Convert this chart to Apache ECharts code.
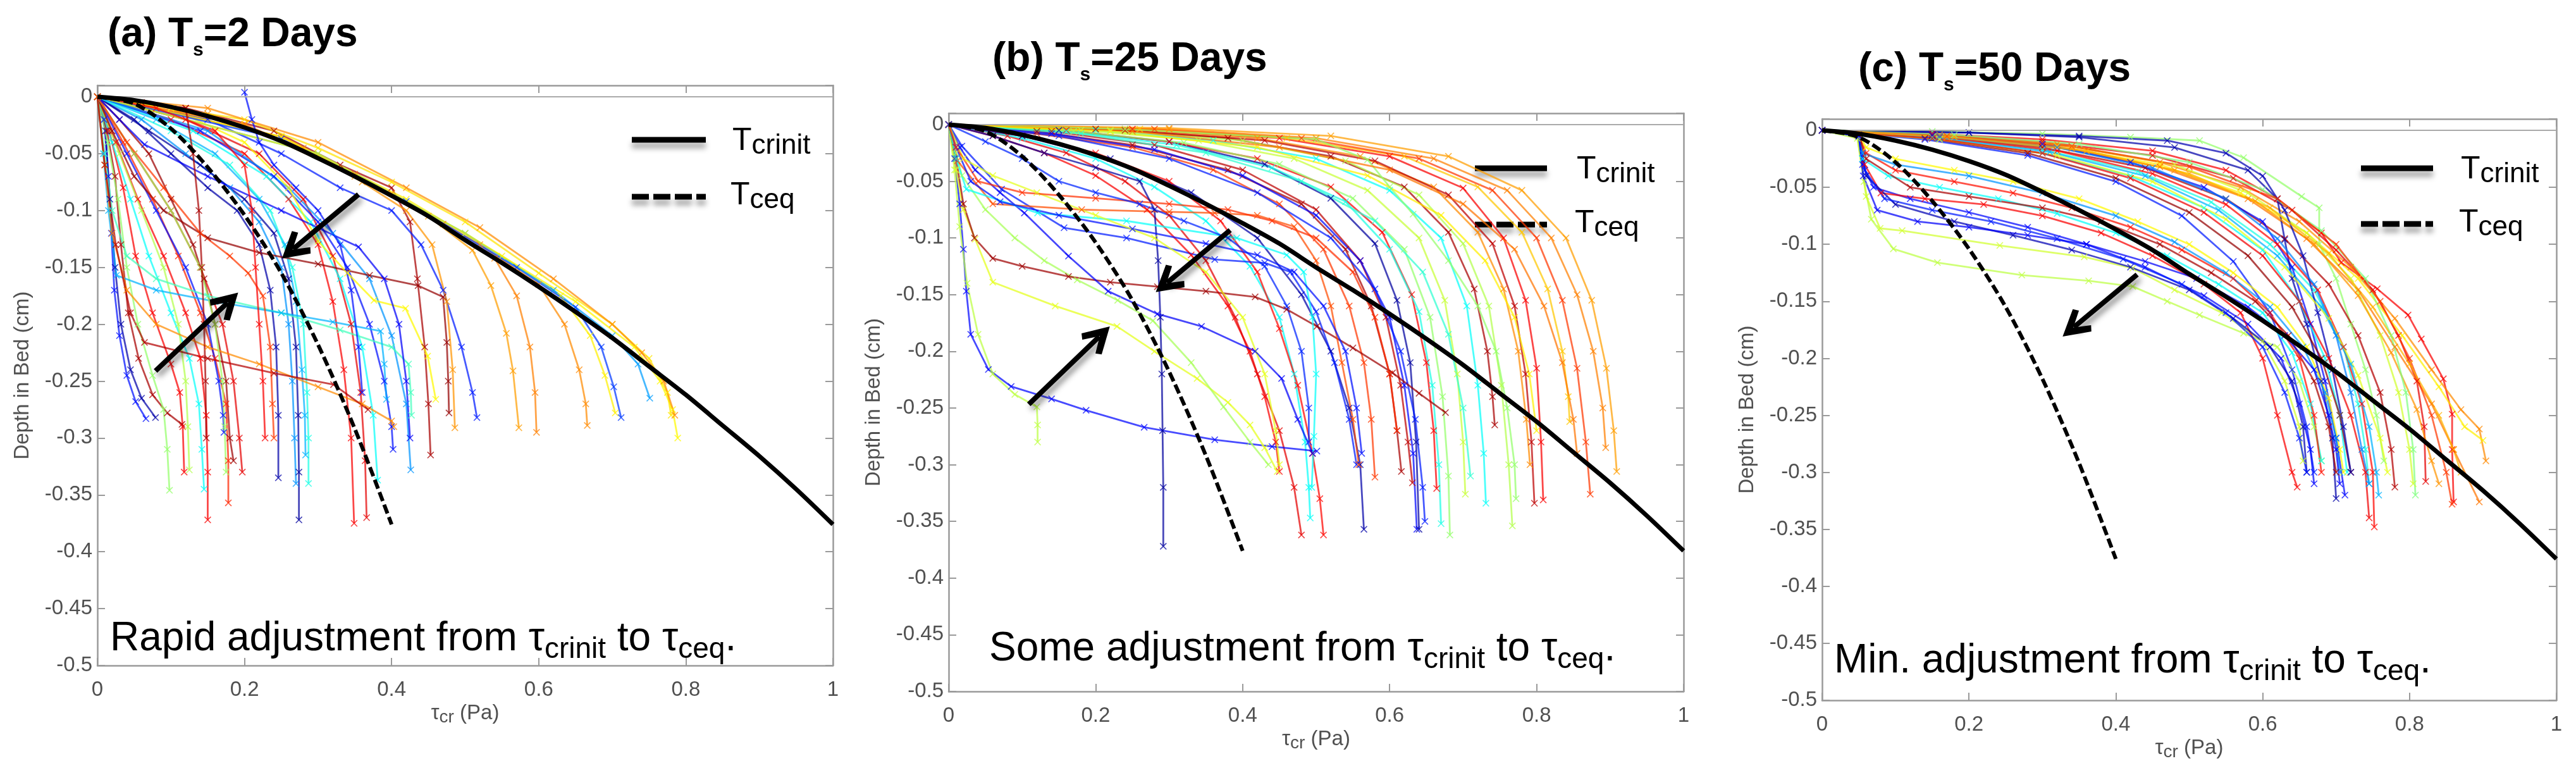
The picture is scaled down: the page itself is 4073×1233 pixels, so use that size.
<!DOCTYPE html>
<html>
<head>
<meta charset="utf-8">
<title>Critical shear stress profiles</title>
<script src="https://cdn.jsdelivr.net/npm/echarts@6/dist/echarts.min.js"></script>
<style>
  html, body { margin: 0; padding: 0; background: #fff; }
  #chart { width: 4073px; height: 1233px; }
</style>
</head>
<body>
<div id="chart"></div>
<script>
// ---- data ----
const xTicks = [0, 0.2, 0.4, 0.6, 0.8, 1];
const panelLetters = ['a', 'b', 'c'];
const settlingDays = [2, 25, 50];
const noteLead = ['Rapid adjustment from ', 'Some adjustment from ', 'Min. adjustment from '];

// initial critical stress profile (solid black)
const tauCrinit = [[0,0],[.05,-.003],[.1,-.009],[.15,-.017],[.2,-.027],[.25,-.039],[.3,-.054],[.35,-.07],[.4,-.087],[.45,-.105],[.5,-.126],[.55,-.146],[.6,-.167],[.65,-.189],[.7,-.212],[.75,-.237],[.8,-.262],[.85,-.289],[.9,-.316],[.95,-.345],[1,-.376]];
// equilibrium critical stress profile (dashed black)
const tauCeq = [[0,0],[.05,-.006],[.1,-.028],[.15,-.062],[.2,-.104],[.25,-.155],[.3,-.218],[.35,-.292],[.4,-.376]];

// modelled profiles: [colour level (jet 0..1), points]
const profilesA = [
  [.14, [[0,0],[.009,-.02],[.015,-.07],[.019,-.12],[.023,-.17],[.03,-.21],[.04,-.245],[.052,-.268],[.066,-.283]]],
  [.04, [[0,0],[.011,-.03],[.017,-.09],[.024,-.15],[.032,-.2],[.045,-.24],[.06,-.265],[.079,-.282]]],
  [.96, [[0,0],[.013,-.03],[.024,-.07],[.032,-.13],[.042,-.19],[.056,-.23],[.075,-.262],[.095,-.278],[.115,-.288]]],
  [.52, [[0,0],[.014,-.04],[.028,-.09],[.04,-.15],[.055,-.2],[.075,-.245],[.09,-.275],[.095,-.31],[.098,-.346]]],
  [.88, [[0,0],[.016,-.03],[.035,-.08],[.052,-.14],[.075,-.19],[.1,-.235],[.112,-.26],[.116,-.29],[.118,-.33]]],
  [.38, [[0,0],[.02,-.04],[.045,-.09],[.07,-.14],[.1,-.19],[.125,-.23],[.138,-.27],[.142,-.31],[.145,-.345]]],
  [.88, [[0,0],[.025,-.04],[.055,-.09],[.09,-.14],[.12,-.19],[.14,-.23],[.148,-.28],[.15,-.33],[.15,-.372]]],
  [.55, [[0,0],[.03,-.05],[.06,-.1],[.09,-.15],[.11,-.2],[.12,-.25],[.123,-.29],[.125,-.328]]],
  [.84, [[0,0],[.035,-.04],[.075,-.09],[.11,-.14],[.14,-.19],[.16,-.23],[.175,-.27],[.178,-.32],[.178,-.357]]],
  [.14, [[0,0],[.04,-.05],[.08,-.1],[.12,-.15],[.15,-.2],[.165,-.25],[.171,-.28],[.172,-.295]]],
  [.9, [[0,0],[.05,-.05],[.1,-.1],[.14,-.15],[.17,-.2],[.185,-.25],[.193,-.3],[.197,-.33]]],
  [.97, [[0,0],[.03,-.02],[.07,-.05],[.1,-.09],[.13,-.13],[.145,-.16],[.16,-.2],[.175,-.25],[.18,-.3],[.185,-.32]]],
  [.04, [[0,0],[.05,-.02],[.1,-.05],[.15,-.08],[.19,-.1],[.22,-.13],[.235,-.17],[.243,-.22],[.246,-.28],[.246,-.335]]],
  [.27, [[0,0],[.06,-.02],[.12,-.05],[.18,-.08],[.22,-.11],[.25,-.15],[.26,-.2],[.265,-.25],[.268,-.3],[.27,-.34]]],
  [.03, [[0,0],[.07,-.03],[.14,-.06],[.2,-.09],[.24,-.12],[.26,-.16],[.27,-.22],[.273,-.28],[.274,-.33],[.274,-.372]]],
  [.3, [[0,0],[.08,-.02],[.16,-.05],[.22,-.09],[.255,-.13],[.27,-.18],[.278,-.24],[.282,-.28],[.283,-.315]]],
  [.4, [[0,0],[.1,-.03],[.18,-.06],[.235,-.1],[.265,-.15],[.28,-.2],[.285,-.26],[.287,-.3],[.287,-.34]]],
  [.88, [[0,0],[.1,-.02],[.2,-.05],[.26,-.09],[.3,-.13],[.32,-.18],[.335,-.24],[.345,-.3],[.349,-.375]]],
  [.9, [[0,0],[.12,-.02],[.22,-.05],[.28,-.09],[.32,-.14],[.345,-.2],[.358,-.26],[.364,-.32],[.366,-.37]]],
  [.38, [[0,0],[.13,-.03],[.23,-.07],[.29,-.11],[.33,-.16],[.36,-.22],[.375,-.28],[.381,-.337]]],
  [.14, [[0,0],[.14,-.03],[.24,-.07],[.3,-.11],[.34,-.15],[.37,-.2],[.39,-.25],[.4,-.29],[.402,-.31]]],
  [.27, [[0,0],[.15,-.03],[.26,-.08],[.32,-.12],[.37,-.16],[.4,-.21],[.42,-.27],[.426,-.328]]],
  [.96, [[0,0],[.12,-.01],[.24,-.03],[.33,-.06],[.4,-.08],[.425,-.11],[.435,-.16],[.445,-.22],[.45,-.27],[.453,-.315]]],
  [.98, [[0,0],[.02,-.03],[.05,-.07],[.09,-.1],[.15,-.124],[.22,-.137],[.3,-.147],[.37,-.157],[.436,-.166],[.47,-.176],[.475,-.216],[.477,-.25],[.478,-.278]]],
  [.44, [[0,0],[.01,-.05],[.02,-.1],[.04,-.14],[.08,-.16],[.15,-.175],[.25,-.19],[.33,-.205],[.4,-.22],[.423,-.235],[.426,-.26],[.427,-.28]]],
  [.3, [[0,0],[.008,-.05],[.015,-.1],[.026,-.157],[.08,-.17],[.16,-.18],[.25,-.19],[.32,-.198],[.385,-.206],[.39,-.235],[.393,-.266]]],
  [.74, [[0,0],[.01,-.06],[.02,-.12],[.04,-.17],[.08,-.2],[.15,-.22],[.22,-.235],[.3,-.255],[.36,-.27],[.4,-.285],[.403,-.29]]],
  [.95, [[0,0],[.01,-.06],[.025,-.13],[.045,-.19],[.064,-.216],[.15,-.23],[.24,-.243],[.321,-.253],[.368,-.275]]],
  [.53, [[0,0],[.05,-.05],[.1,-.1],[.14,-.15],[.16,-.2],[.17,-.25],[.173,-.29],[.175,-.33]]],
  [.82, [[0,0],[.04,-.04],[.09,-.08],[.14,-.12],[.18,-.14],[.205,-.155],[.225,-.175],[.235,-.22],[.238,-.27],[.24,-.3]]],
  [.63, [[0,0],[.1,-.01],[.2,-.04],[.26,-.08],[.3,-.127],[.34,-.155],[.376,-.179],[.419,-.186],[.449,-.228],[.46,-.266]]],
  [.15, [[0,0],[.15,-.02],[.25,-.05],[.33,-.08],[.4,-.1],[.44,-.13],[.47,-.17],[.495,-.22],[.51,-.26],[.516,-.282]]],
  [.73, [[0,0],[.15,-.015],[.28,-.045],[.36,-.075],[.42,-.1],[.455,-.13],[.475,-.18],[.483,-.24],[.486,-.291]]],
  [.72, [[0,0],[.2,-.025],[.35,-.07],[.45,-.105],[.51,-.135],[.535,-.166],[.556,-.208],[.565,-.241],[.573,-.291]]],
  [.75, [[0,0],[.2,-.024],[.35,-.068],[.47,-.112],[.54,-.142],[.57,-.175],[.588,-.22],[.595,-.26],[.597,-.295]]],
  [.74, [[0,0],[.25,-.035],[.4,-.085],[.52,-.13],[.6,-.165],[.635,-.2],[.655,-.24],[.664,-.27],[.666,-.289]]],
  [.64, [[0,0],[.25,-.035],[.42,-.09],[.55,-.14],[.63,-.175],[.67,-.21],[.69,-.245],[.704,-.278]]],
  [.18, [[0,0],[.25,-.037],[.42,-.092],[.57,-.15],[.65,-.185],[.685,-.22],[.702,-.255],[.712,-.282]]],
  [.28, [[0,0],[.3,-.05],[.5,-.12],[.62,-.17],[.7,-.21],[.735,-.235],[.751,-.265]]],
  [.63, [[0,0],[.3,-.05],[.5,-.12],[.65,-.18],[.73,-.22],[.765,-.25],[.782,-.275],[.789,-.3]]],
  [.65, [[0,0],[.2,-.02],[.3,-.045],[.4,-.075],[.5,-.11],[.6,-.155],[.7,-.2],[.75,-.23],[.775,-.26],[.78,-.28]]],
  [.14, [[.2,.004],[.21,-.02],[.22,-.04],[.24,-.06],[.27,-.08],[.3,-.1],[.33,-.13],[.345,-.17],[.355,-.22],[.36,-.26]]],
  [.12, [[0,0],[.03,-.02],[.064,-.042],[.15,-.07],[.25,-.1],[.355,-.132],[.39,-.16],[.41,-.2],[.42,-.25],[.425,-.3]]],
  [.96, [[0,0],[.06,-.005],[.12,-.01],[.13,-.05],[.138,-.1],[.142,-.15],[.145,-.2],[.147,-.25],[.148,-.3]]],
  [.88, [[0,0],[.08,-.01],[.16,-.03],[.2,-.06],[.21,-.1],[.215,-.15],[.22,-.2],[.225,-.25],[.228,-.3]]],
  [.74, [[0,0],[.15,-.01],[.3,-.04],[.42,-.08],[.52,-.115],[.62,-.16],[.7,-.2],[.74,-.225],[.77,-.25],[.785,-.28]]]
];

const profilesB = [
  [.88, [[0,0],[.06,-.01],[.13,-.025],[.2,-.045],[.27,-.075],[.33,-.115],[.38,-.16],[.41,-.2],[.43,-.24],[.445,-.28],[.45,-.306]]],
  [.9, [[0,0],[.08,-.01],[.16,-.025],[.24,-.05],[.3,-.08],[.35,-.12],[.39,-.17],[.42,-.22],[.45,-.27],[.47,-.32],[.48,-.362]]],
  [.38, [[0,0],[.1,-.012],[.2,-.03],[.28,-.055],[.35,-.085],[.41,-.125],[.45,-.17],[.47,-.22],[.485,-.28],[.49,-.32],[.492,-.347]]],
  [.87, [[0,0],[.1,-.01],[.2,-.025],[.3,-.05],[.37,-.085],[.42,-.13],[.45,-.18],[.475,-.23],[.495,-.29],[.505,-.33],[.51,-.362]]],
  [.04, [[0,0],[.1,-.01],[.22,-.03],[.33,-.06],[.42,-.1],[.48,-.15],[.52,-.2],[.545,-.25],[.56,-.3],[.565,-.357]]],
  [.82, [[0,0],[.12,-.008],[.25,-.02],[.36,-.04],[.45,-.07],[.51,-.11],[.545,-.16],[.565,-.21],[.575,-.26],[.58,-.311]]],
  [.96, [[0,0],[.12,-.006],[.25,-.018],[.38,-.04],[.48,-.07],[.54,-.11],[.575,-.16],[.6,-.22],[.61,-.27],[.616,-.306]]],
  [.94, [[0,0],[.14,-.006],[.28,-.018],[.4,-.04],[.5,-.075],[.56,-.12],[.595,-.17],[.615,-.23],[.625,-.28],[.631,-.316]]],
  [.13, [[0,0],[.14,-.008],[.28,-.022],[.4,-.045],[.5,-.08],[.56,-.12],[.6,-.17],[.62,-.23],[.632,-.29],[.637,-.357]]],
  [.03, [[0,0],[.15,-.005],[.3,-.015],[.43,-.035],[.52,-.065],[.58,-.105],[.61,-.155],[.628,-.21],[.636,-.28],[.64,-.357]]],
  [.88, [[0,0],[.16,-.005],[.3,-.015],[.42,-.03],[.52,-.055],[.59,-.095],[.63,-.15],[.65,-.21],[.66,-.27],[.664,-.321]]],
  [.4, [[0,0],[.16,-.006],[.31,-.018],[.44,-.038],[.54,-.068],[.6,-.11],[.64,-.165],[.658,-.23],[.667,-.3],[.67,-.352]]],
  [.52, [[0,0],[.17,-.006],[.32,-.016],[.45,-.035],[.55,-.065],[.62,-.11],[.655,-.17],[.672,-.24],[.68,-.31],[.682,-.362]]],
  [.57, [[0,0],[.18,-.005],[.34,-.014],[.47,-.03],[.57,-.058],[.64,-.1],[.675,-.155],[.692,-.22],[.7,-.28],[.703,-.326]]],
  [.38, [[0,0],[.2,-.005],[.36,-.014],[.5,-.03],[.6,-.058],[.67,-.1],[.705,-.16],[.72,-.23],[.728,-.29],[.731,-.334]]],
  [.96, [[0,0],[.2,-.004],[.38,-.012],[.52,-.028],[.62,-.055],[.68,-.095],[.715,-.145],[.733,-.2],[.74,-.24],[.743,-.265]]],
  [.55, [[0,0],[.22,-.005],[.4,-.014],[.54,-.032],[.64,-.062],[.7,-.105],[.735,-.16],[.752,-.23],[.762,-.3],[.767,-.354]]],
  [.74, [[0,0],[.24,-.004],[.42,-.012],[.56,-.028],[.66,-.055],[.72,-.095],[.755,-.145],[.775,-.2],[.786,-.26],[.791,-.3]]],
  [.94, [[0,0],[.24,-.005],[.43,-.014],[.58,-.032],[.68,-.062],[.74,-.105],[.77,-.16],[.785,-.22],[.793,-.28],[.797,-.334]]],
  [.88, [[0,0],[.25,-.004],[.45,-.012],[.6,-.028],[.7,-.056],[.755,-.1],[.785,-.155],[.8,-.215],[.806,-.28],[.809,-.331]]],
  [.68, [[0,0],[.26,-.004],[.46,-.012],[.62,-.028],[.72,-.055],[.78,-.095],[.815,-.145],[.835,-.2],[.843,-.24],[.845,-.262]]],
  [.82, [[0,0],[.28,-.004],[.48,-.012],[.64,-.03],[.74,-.058],[.8,-.1],[.835,-.155],[.855,-.215],[.867,-.28],[.873,-.326]]],
  [.75, [[0,0],[.3,-.004],[.5,-.012],[.66,-.03],[.76,-.058],[.82,-.1],[.855,-.15],[.877,-.2],[.89,-.25],[.894,-.285]]],
  [.72, [[0,0],[.3,-.003],[.52,-.01],[.68,-.028],[.78,-.058],[.84,-.1],[.875,-.155],[.895,-.215],[.905,-.27],[.909,-.306]]],
  [.52, [[0,0],[.24,-.004],[.5,-.013],[.57,-.031],[.6,-.055],[.632,-.079],[.68,-.12],[.72,-.16],[.745,-.2],[.76,-.25],[.77,-.3],[.772,-.33]]],
  [.76, [[0,0],[.25,-.006],[.45,-.02],[.6,-.04],[.7,-.07],[.77,-.11],[.81,-.16],[.835,-.21],[.85,-.26],[.855,-.29]]],
  [.64, [[0,0],[.22,-.006],[.42,-.02],[.57,-.045],[.67,-.08],[.73,-.12],[.77,-.17],[.79,-.22],[.8,-.27]]],
  [.15, [[0,0],[.15,-.01],[.3,-.03],[.42,-.06],[.52,-.1],[.58,-.145],[.615,-.2],[.635,-.26],[.645,-.32],[.648,-.35]]],
  [.42, [[0,0],[.18,-.008],[.35,-.025],[.48,-.05],[.58,-.085],[.645,-.13],[.68,-.185],[.7,-.25],[.71,-.31]]],
  [.13, [[0,0],[.008,-.03],[.015,-.07],[.02,-.11],[.024,-.147],[.03,-.185],[.054,-.216],[.085,-.231],[.14,-.242],[.187,-.252],[.266,-.267],[.362,-.278],[.44,-.284],[.501,-.288]]],
  [.56, [[0,0],[.008,-.04],[.015,-.09],[.025,-.14],[.04,-.185],[.06,-.22],[.09,-.238],[.12,-.249],[.121,-.265],[.121,-.28]]],
  [.6, [[0,0],[.01,-.04],[.02,-.075],[.036,-.101],[.06,-.139],[.145,-.16],[.229,-.178],[.28,-.2],[.338,-.224],[.38,-.245],[.41,-.265],[.43,-.285],[.447,-.306]]],
  [.54, [[0,0],[.01,-.025],[.018,-.045],[.05,-.075],[.09,-.1],[.13,-.12],[.175,-.137],[.23,-.155],[.278,-.173],[.33,-.21],[.374,-.249],[.41,-.28],[.435,-.3]]],
  [.97, [[0,0],[.01,-.03],[.02,-.07],[.035,-.1],[.06,-.118],[.1,-.125],[.163,-.134],[.22,-.139],[.284,-.143],[.35,-.147],[.417,-.152],[.46,-.163],[.501,-.178],[.55,-.197],[.604,-.219],[.64,-.237],[.676,-.254]]],
  [.03, [[0,0],[.06,-.01],[.13,-.025],[.2,-.038],[.26,-.05],[.28,-.075],[.285,-.12],[.288,-.17],[.29,-.22],[.291,-.27],[.292,-.32],[.292,-.372]]],
  [.12, [[0,0],[.015,-.02],[.036,-.04],[.07,-.06],[.103,-.078],[.163,-.116],[.217,-.147],[.284,-.167],[.344,-.178],[.417,-.2],[.453,-.224],[.475,-.26],[.495,-.29]]],
  [.15, [[0,0],[.018,-.019],[.072,-.057],[.157,-.091],[.242,-.1],[.362,-.119],[.43,-.122],[.465,-.13],[.5,-.165],[.525,-.21],[.545,-.26],[.555,-.3]]],
  [.8, [[0,0],[.012,-.032],[.06,-.07],[.181,-.075],[.3,-.077],[.362,-.078],[.42,-.08],[.47,-.09],[.5,-.12],[.52,-.16],[.535,-.21],[.55,-.26],[.558,-.3]]],
  [.38, [[0,0],[.01,-.03],[.024,-.057],[.121,-.078],[.242,-.085],[.392,-.1],[.46,-.115],[.483,-.13],[.495,-.17],[.5,-.22],[.497,-.275],[.494,-.32]]],
  [.14, [[0,0],[.01,-.02],[.03,-.05],[.07,-.068],[.15,-.08],[.25,-.092],[.35,-.105],[.42,-.115],[.47,-.13],[.51,-.16],[.54,-.2],[.555,-.25],[.562,-.29]]],
  [.6, [[0,0],[.02,-.03],[.06,-.045],[.12,-.06],[.2,-.08],[.28,-.1],[.35,-.13],[.4,-.17],[.43,-.22],[.445,-.27],[.45,-.3]]],
  [.83, [[0,0],[.01,-.02],[.04,-.05],[.1,-.06],[.2,-.065],[.3,-.07],[.38,-.075],[.44,-.085],[.5,-.1],[.55,-.13],[.58,-.17],[.6,-.22],[.61,-.27]]],
  [.16, [[0,0],[.05,-.015],[.1,-.03],[.15,-.05],[.2,-.06],[.26,-.07],[.32,-.085],[.38,-.1],[.43,-.125],[.46,-.16],[.48,-.2],[.49,-.25],[.49,-.28]]]
];

const profilesC = [
  [.52, [[0,0],[.15,-.001],[.3,-.003],[.42,-.006],[.514,-.009],[.574,-.024],[.653,-.058],[.677,-.068],[.677,-.1],[.7,-.13],[.72,-.17],[.74,-.21],[.755,-.25],[.765,-.29]]],
  [.88, [[0,0],[.15,-.003],[.3,-.008],[.45,-.018],[.55,-.035],[.62,-.06],[.68,-.09],[.707,-.116],[.756,-.139],[.798,-.162],[.816,-.183],[.846,-.218],[.858,-.249],[.858,-.28],[.86,-.326]]],
  [.9, [[0,0],[.15,-.004],[.3,-.01],[.45,-.022],[.56,-.042],[.64,-.07],[.7,-.105],[.75,-.14],[.785,-.18],[.81,-.22],[.82,-.26],[.822,-.308]]],
  [.74, [[0,0],[.16,-.004],[.32,-.012],[.46,-.028],[.57,-.05],[.65,-.08],[.72,-.12],[.78,-.165],[.83,-.21],[.87,-.245],[.895,-.262],[.904,-.29]]],
  [.64, [[0,0],[.16,-.005],[.32,-.014],[.46,-.03],[.57,-.055],[.66,-.09],[.73,-.13],[.79,-.18],[.84,-.225],[.875,-.26],[.9,-.272]]],
  [.76, [[0,0],[.16,-.005],[.32,-.015],[.46,-.032],[.58,-.06],[.66,-.095],[.73,-.14],[.78,-.19],[.83,-.24],[.86,-.28],[.895,-.326]]],
  [.95, [[0,0],[.15,-.005],[.3,-.015],[.44,-.033],[.55,-.06],[.63,-.095],[.69,-.135],[.73,-.18],[.76,-.23],[.775,-.28],[.78,-.313]]],
  [.4, [[0,0],[.15,-.006],[.3,-.017],[.43,-.036],[.53,-.063],[.61,-.1],[.67,-.14],[.71,-.19],[.73,-.24],[.74,-.28],[.745,-.31]]],
  [.13, [[0,0],[.15,-.004],[.3,-.012],[.42,-.028],[.52,-.05],[.6,-.08],[.64,-.12],[.665,-.17],[.685,-.22],[.7,-.27],[.712,-.32]]],
  [.04, [[0,0],[.2,-.002],[.35,-.006],[.48,-.015],[.58,-.035],[.62,-.06],[.63,-.096],[.64,-.13],[.66,-.17],[.68,-.22],[.695,-.27],[.7,-.323]]],
  [.87, [[0,0],[.16,-.006],[.32,-.018],[.45,-.038],[.55,-.065],[.62,-.1],[.675,-.14],[.71,-.19],[.735,-.24],[.75,-.3],[.752,-.348]]],
  [.38, [[0,0],[.15,-.007],[.3,-.02],[.42,-.04],[.52,-.068],[.6,-.105],[.65,-.15],[.685,-.2],[.705,-.25],[.715,-.3]]],
  [.58, [[0,0],[.17,-.005],[.34,-.014],[.48,-.03],[.58,-.055],[.66,-.09],[.72,-.13],[.76,-.18],[.785,-.23],[.8,-.28],[.805,-.31]]],
  [.98, [[0,0],[.14,-.007],[.28,-.02],[.4,-.042],[.5,-.072],[.58,-.11],[.64,-.155],[.68,-.2],[.705,-.25],[.72,-.3]]],
  [.15, [[0,0],[.14,-.008],[.28,-.022],[.4,-.045],[.49,-.075],[.56,-.115],[.61,-.16],[.64,-.21],[.66,-.26],[.67,-.3]]],
  [.73, [[0,0],[.17,-.006],[.34,-.016],[.48,-.035],[.59,-.062],[.67,-.1],[.73,-.145],[.775,-.195],[.81,-.245],[.83,-.29],[.84,-.31]]],
  [.3, [[0,0],[.16,-.007],[.31,-.019],[.44,-.04],[.54,-.07],[.62,-.11],[.68,-.155],[.72,-.205],[.745,-.26],[.755,-.3],[.758,-.32]]],
  [.05, [[0,0],[.2,-.002],[.35,-.005],[.47,-.009],[.55,-.02],[.6,-.04],[.63,-.07],[.655,-.11],[.675,-.16],[.695,-.21],[.71,-.26],[.72,-.3]]],
  [.6, [[0,0],[.16,-.008],[.32,-.022],[.45,-.045],[.55,-.078],[.63,-.12],[.69,-.165],[.73,-.215],[.76,-.27],[.77,-.3]]],
  [.89, [[0,0],[.15,-.007],[.3,-.02],[.42,-.042],[.52,-.072],[.6,-.11],[.65,-.15],[.69,-.2],[.72,-.25],[.74,-.3],[.745,-.34]]],
  [.25, [[0,0],[.16,-.005],[.32,-.015],[.45,-.033],[.55,-.06],[.62,-.095],[.67,-.135],[.7,-.18],[.72,-.23],[.735,-.28],[.745,-.31]]],
  [.5, [[0,0],[.18,-.004],[.35,-.012],[.5,-.028],[.6,-.052],[.68,-.088],[.74,-.13],[.775,-.18],[.795,-.23],[.805,-.28],[.808,-.32]]],
  [.82, [[0,0],[.17,-.005],[.34,-.014],[.5,-.032],[.62,-.06],[.7,-.1],[.76,-.15],[.8,-.2],[.83,-.25],[.85,-.3],[.858,-.328]]],
  [.7, [[0,0],[.18,-.006],[.36,-.018],[.5,-.038],[.61,-.068],[.69,-.108],[.75,-.155],[.8,-.205],[.84,-.25],[.86,-.28],[.87,-.3]]],
  [.56, [[0,0],[.048,-.007],[.057,-.045],[.067,-.078],[.097,-.104],[.157,-.116],[.272,-.127],[.363,-.132],[.423,-.137],[.47,-.15],[.514,-.162],[.574,-.178],[.62,-.19],[.65,-.22],[.67,-.26],[.68,-.29]]],
  [.58, [[0,0],[.048,-.005],[.06,-.058],[.079,-.086],[.109,-.088],[.242,-.101],[.357,-.111],[.423,-.121],[.48,-.14],[.544,-.16],[.6,-.185],[.63,-.22],[.65,-.26],[.655,-.29]]],
  [.13, [[0,0],[.05,-.005],[.055,-.03],[.07,-.05],[.12,-.06],[.2,-.072],[.28,-.085],[.36,-.1],[.44,-.12],[.52,-.145],[.58,-.17],[.625,-.2],[.65,-.24],[.665,-.28],[.67,-.31]]],
  [.88, [[0,0],[.05,-.004],[.058,-.03],[.08,-.055],[.14,-.06],[.22,-.065],[.3,-.075],[.38,-.09],[.45,-.11],[.52,-.135],[.57,-.16],[.6,-.2],[.62,-.25],[.64,-.3],[.647,-.313]]],
  [.05, [[0,0],[.05,-.005],[.06,-.04],[.1,-.065],[.18,-.08],[.26,-.092],[.34,-.105],[.42,-.12],[.5,-.14],[.56,-.165],[.61,-.19],[.64,-.22],[.655,-.26],[.66,-.3]]],
  [.38, [[0,0],[.05,-.004],[.055,-.025],[.09,-.04],[.16,-.05],[.24,-.06],[.32,-.073],[.4,-.09],[.47,-.11],[.54,-.135],[.6,-.16],[.64,-.195],[.665,-.24],[.68,-.29]]],
  [.86, [[0,0],[.05,-.004],[.06,-.02],[.1,-.035],[.18,-.045],[.26,-.055],[.34,-.068],[.42,-.085],[.49,-.105],[.56,-.13],[.61,-.16],[.65,-.2],[.67,-.25],[.68,-.3]]],
  [.15, [[0,0],[.05,-.005],[.058,-.035],[.085,-.06],[.15,-.07],[.23,-.08],[.32,-.095],[.41,-.113],[.49,-.135],[.55,-.16],[.6,-.19],[.63,-.23],[.65,-.27],[.66,-.3]]],
  [.63, [[0,0],[.05,-.004],[.06,-.015],[.1,-.025],[.18,-.035],[.26,-.045],[.35,-.06],[.43,-.08],[.5,-.1],[.56,-.125],[.62,-.155],[.66,-.19],[.69,-.235],[.705,-.28],[.71,-.3]]],
  [.27, [[0,0],[.05,-.004],[.055,-.02],[.1,-.03],[.2,-.04],[.3,-.055],[.4,-.075],[.48,-.098],[.55,-.125],[.61,-.155],[.655,-.19],[.685,-.23],[.7,-.27],[.705,-.3]]],
  [.96, [[0,0],[.05,-.004],[.06,-.025],[.12,-.05],[.2,-.058],[.3,-.068],[.38,-.08],[.46,-.1],[.53,-.125],[.59,-.15],[.635,-.18],[.67,-.22],[.69,-.26],[.7,-.3]]],
  [.12, [[0,0],[.05,-.005],[.056,-.04],[.075,-.07],[.13,-.08],[.2,-.085],[.28,-.092],[.36,-.1],[.44,-.115],[.51,-.13],[.58,-.155],[.63,-.18],[.67,-.21],[.69,-.25],[.7,-.28],[.705,-.31]]]
];

// annotation arrows: [tail, head]
const arrowsA = [[[0.355, -0.0859], [0.266, -0.134]], [[0.079, -0.241], [0.177, -0.181]]];
const arrowsB = [[[0.383, -0.0931], [0.297, -0.1396]], [[0.109, -0.2467], [0.205, -0.1869]]];
const arrowsC = [[[0.429, -0.1265], [0.3428, -0.1727]]];

// ---- layout / style ----
const FONT = '"Liberation Sans", Arial, Helvetica, sans-serif';
const AXIS_GREY = '#9a9a9a';
const LABEL_GREY = '#505050';
const xMark = 'path://M0,1L1,0L5,4L9,0L10,1L6,5L10,9L9,10L5,6L1,10L0,9L4,5Z';
const chevron = 'path://M0,40L23,0L46,40L38,46L23,22L8,46Z';

const panels = [
  { left: 154, top: 135, width: 1163, height: 917, title: [170, 55], note: [174, 1010], legend: [999, 1116, 221, 311, 1158],
    profiles: profilesA, arrows: arrowsA },
  { left: 1500, top: 179, width: 1162, height: 914, title: [1569, 94], note: [1564, 1026], legend: [2332, 2446, 266, 355, 2493],
    profiles: profilesB, arrows: arrowsB },
  { left: 2881, top: 188, width: 1161, height: 919, title: [2938, 110], note: [2900, 1045], legend: [3733, 3847, 266, 354, 3891],
    profiles: profilesC, arrows: arrowsC }
];

function jet(v) {
  const c = t => Math.round(255 * Math.max(0, Math.min(1, t)));
  return `rgb(${c(1.5 - Math.abs(4 * v - 3))},${c(1.5 - Math.abs(4 * v - 2))},${c(1.5 - Math.abs(4 * v - 1))})`;
}

const axisLine = { show: true, onZero: false, lineStyle: { color: AXIS_GREY, width: 2.5 } };
const axisTick = { show: true, inside: true, length: 12, lineStyle: { color: AXIS_GREY, width: 2 } };

const grids = [], xAxes = [], yAxes = [], series = [], graphics = [];

panels.forEach((p, i) => {
  grids.push({ left: p.left, top: p.top, width: p.width, height: p.height, containLabel: false });

  xAxes.push({
    type: 'value', gridIndex: i, position: 'bottom',
    min: xTicks[0], max: xTicks[xTicks.length - 1], interval: 0.2,
    axisLine, axisTick, splitLine: { show: false },
    axisLabel: { color: LABEL_GREY, fontSize: 33, fontFamily: FONT, margin: 22,
      formatter: v => String(Math.round(v * 10) / 10) },
    name: '{t|τ}{s|cr}{t| (Pa)}', nameLocation: 'middle', nameGap: 56,
    nameTextStyle: { rich: {
      t: { color: LABEL_GREY, fontSize: 33, fontFamily: FONT, lineHeight: 40 },
      s: { color: LABEL_GREY, fontSize: 28, fontFamily: FONT, lineHeight: 22, verticalAlign: 'bottom' }
    } }
  });
  xAxes.push({
    type: 'value', gridIndex: i, position: 'top', min: 0, max: 1, interval: 0.2,
    axisLine, axisTick, splitLine: { show: false }, axisLabel: { show: false }
  });
  yAxes.push({
    type: 'value', gridIndex: i, position: 'left', min: -0.5, max: 0.01, interval: 0.05,
    axisLine, axisTick, splitLine: { show: false },
    axisLabel: { color: LABEL_GREY, fontSize: 33, fontFamily: FONT, margin: 8,
      formatter: v => v > 0.001 ? '' : (Math.abs(v) < 1e-9 ? '0' : String(Math.round(v * 100) / 100)) },
    name: 'Depth in Bed (cm)', nameLocation: 'middle', nameGap: 102,
    nameTextStyle: { color: LABEL_GREY, fontSize: 33, fontFamily: FONT }
  });
  yAxes.push({
    type: 'value', gridIndex: i, position: 'right', min: -0.5, max: 0.01, interval: 0.05,
    axisLine, axisTick, splitLine: { show: false }, axisLabel: { show: false }
  });

  const xi = 2 * i, yi = 2 * i;

  p.profiles.forEach(([level, pts]) => {
    const col = jet(level);
    series.push({
      type: 'line', xAxisIndex: xi, yAxisIndex: yi, data: pts,
      symbol: xMark, symbolSize: 11, showSymbol: true,
      lineStyle: { color: col, width: 2.8, opacity: 0.72 },
      itemStyle: { color: col, opacity: 0.75 },
      silent: true, animation: false, z: 2
    });
  });

  series.push({
    type: 'line', xAxisIndex: xi, yAxisIndex: yi, data: tauCeq, smooth: 0.3,
    symbol: 'none', lineStyle: { color: '#000', width: 6, type: [15, 6] },
    silent: true, animation: false, z: 5
  });
  series.push({
    type: 'line', xAxisIndex: xi, yAxisIndex: yi, data: tauCrinit, smooth: 0.3,
    symbol: 'none', lineStyle: { color: '#000', width: 7 },
    silent: true, animation: false, z: 6,
    markLine: {
      silent: true, animation: false, label: { show: false }, symbol: 'none',
      data: [
        [{ coord: [0, 0], symbol: 'none', lineStyle: { color: '#aaaaaa', width: 2, type: 'solid' } },
         { coord: [1, 0], symbol: 'none' }]
      ].concat(p.arrows.map(a => [
        { coord: a[0], symbol: 'none',
          lineStyle: { color: '#000', width: 8, type: 'solid', shadowBlur: 10,
            shadowColor: 'rgba(0,0,0,0.45)', shadowOffsetX: 4, shadowOffsetY: 7 } },
        { coord: a[1], symbol: chevron, symbolSize: [46, 46] }
      ]))
    }
  });

  // panel title
  graphics.push({
    type: 'text', x: p.title[0], y: p.title[1], silent: true,
    style: {
      text: `{m|(${panelLetters[i]}) T}{s|s}{m|=${settlingDays[i]} Days}`,
      align: 'left', verticalAlign: 'middle',
      rich: {
        m: { fontSize: 64, fontFamily: FONT, fontWeight: 'bold', fill: '#000', lineHeight: 80 },
        s: { fontSize: 30, fontFamily: FONT, fontWeight: 'bold', fill: '#000', lineHeight: 28, verticalAlign: 'bottom' }
      }
    }
  });
  // note inside the plot
  graphics.push({
    type: 'text', x: p.note[0], y: p.note[1], silent: true,
    style: {
      text: `{m|${noteLead[i]}τ}{s|crinit}{m| to τ}{s|ceq}{m|.}`,
      align: 'left', verticalAlign: 'middle',
      rich: {
        m: { fontSize: 64, fontFamily: FONT, fill: '#000', lineHeight: 80 },
        s: { fontSize: 46, fontFamily: FONT, fill: '#000', lineHeight: 40, verticalAlign: 'bottom' }
      }
    }
  });
  // legend
  const [lx1, lx2, ly1, ly2, tx] = p.legend;
  const shadow = { shadowBlur: 9, shadowColor: 'rgba(0,0,0,0.35)', shadowOffsetY: 9 };
  graphics.push({ type: 'line', silent: true, shape: { x1: lx1, y1: ly1, x2: lx2, y2: ly1 },
    style: Object.assign({ stroke: '#000', lineWidth: 9 }, shadow) });
  graphics.push({ type: 'line', silent: true, shape: { x1: lx1, y1: ly2, x2: lx2, y2: ly2 },
    style: Object.assign({ stroke: '#000', lineWidth: 9, lineDash: [27, 7] }, shadow) });
  const legRich = {
    m: { fontSize: 50, fontFamily: FONT, fill: '#000', lineHeight: 60 },
    s: { fontSize: 44, fontFamily: FONT, fill: '#000', lineHeight: 24, verticalAlign: 'bottom' }
  };
  graphics.push({ type: 'text', x: tx, y: ly1 + 2, silent: true,
    style: { text: '{m|Τ}{s|crinit}', align: 'left', verticalAlign: 'middle', rich: legRich } });
  graphics.push({ type: 'text', x: tx - 3, y: ly2 - 2, silent: true,
    style: { text: '{m|Τ}{s|ceq}', align: 'left', verticalAlign: 'middle', rich: legRich } });
});

const chart = echarts.init(document.getElementById('chart'));
chart.setOption({
  backgroundColor: '#fff',
  animation: false,
  grid: grids,
  xAxis: xAxes,
  yAxis: yAxes,
  series: series,
  graphic: graphics
});
</script>
</body>
</html>
